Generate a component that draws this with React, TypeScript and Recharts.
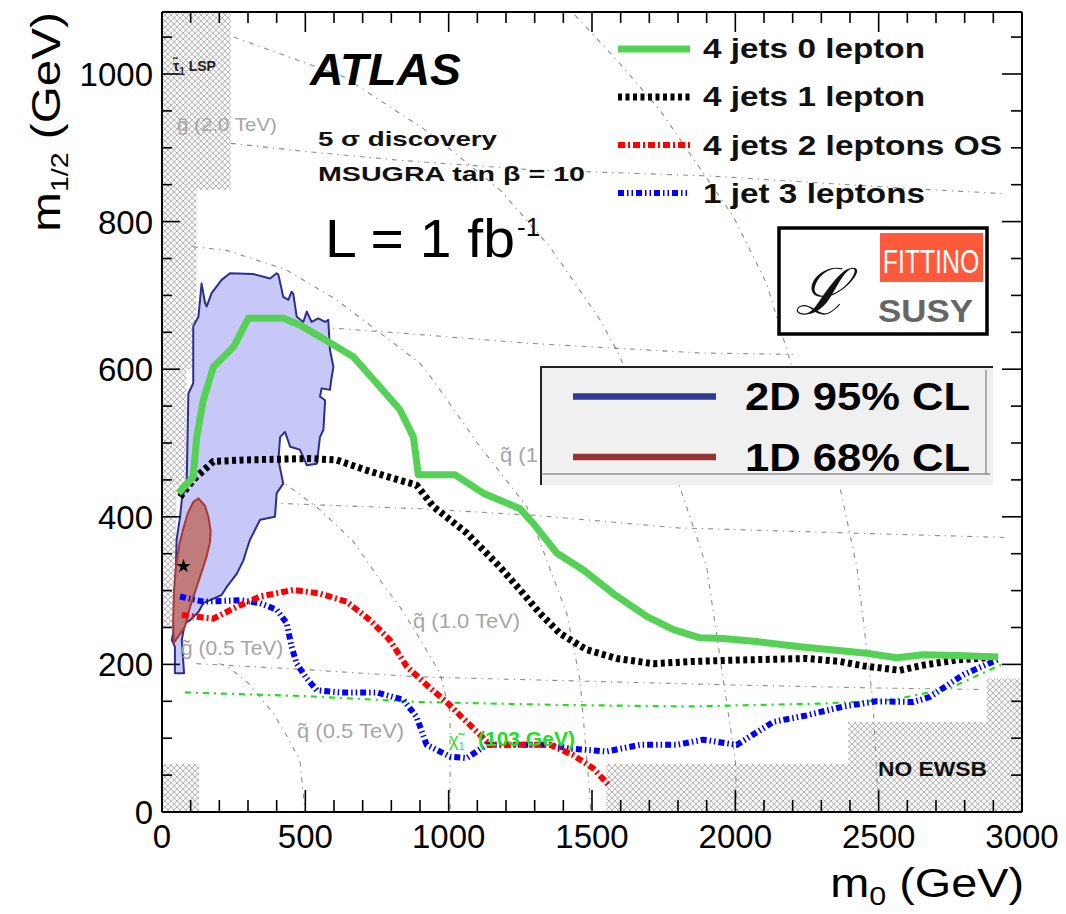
import React from 'react';
import { ComposedChart, XAxis, YAxis, Scatter, ReferenceArea } from 'recharts';

type Pt = [number, number];

// ---------- axis ticks ----------
const xTicks = [0, 100, 200, 300, 400, 500, 600, 700, 800, 900, 1000, 1100, 1200, 1300, 1400, 1500, 1600, 1700, 1800, 1900, 2000, 2100, 2200, 2300, 2400, 2500, 2600, 2700, 2800, 2900, 3000];
const xLabelled = [0, 500, 1000, 1500, 2000, 2500, 3000];
const yTicks = [0, 50, 100, 150, 200, 250, 300, 350, 400, 450, 500, 550, 600, 650, 700, 750, 800, 850, 900, 950, 1000, 1050];
const yLabelled = [0, 200, 400, 600, 800, 1000];

// ---------- 5 sigma discovery reach (m0, m1/2) ----------
const jets4lep0: Pt[] = [[57, 432], [109, 454], [121, 508], [144, 558], [179, 603], [249, 630], [301, 669], [423, 669], [481, 660], [598, 633], [667, 617], [749, 581], [830, 545], [877, 508], [894, 457], [1022, 457], [1121, 432], [1249, 411], [1295, 391], [1377, 351], [1470, 328], [1574, 296], [1691, 265], [1784, 247], [1877, 236], [1958, 235], [2074, 231], [2226, 224], [2458, 215], [2563, 209], [2656, 213], [2772, 212], [2917, 210]];
const jets4lep1: Pt[] = [[63, 427], [109, 450], [179, 475], [284, 477], [516, 479], [609, 477], [714, 463], [807, 452], [888, 443], [946, 414], [1063, 378], [1179, 332], [1249, 301], [1319, 269], [1388, 242], [1481, 220], [1586, 208], [1714, 201], [1853, 204], [2016, 206], [2249, 208], [2365, 204], [2446, 198], [2574, 192], [2656, 199], [2772, 206], [2912, 210]];
const jets4lep2OS: Pt[] = [[69, 267], [109, 265], [179, 262], [261, 278], [342, 292], [458, 301], [551, 296], [644, 285], [726, 260], [795, 233], [854, 197], [935, 168], [993, 149], [1045, 129], [1098, 109], [1144, 91], [1353, 91], [1435, 77], [1505, 59], [1557, 37]];
const jet1lep3: Pt[] = [[63, 292], [144, 285], [272, 287], [342, 283], [400, 274], [435, 256], [452, 224], [470, 201], [505, 181], [540, 165], [621, 162], [749, 162], [842, 152], [888, 129], [923, 91], [1005, 75], [1063, 73], [1133, 91], [1353, 91], [1423, 86], [1551, 82], [1667, 91], [1795, 91], [1888, 98], [2005, 91], [2132, 122], [2249, 131], [2377, 143], [2493, 150], [2621, 149], [2679, 156], [2795, 186], [2923, 208]];
const charginoLEP: Pt[] = [[80, 162], [500, 157], [900, 149], [1400, 145], [1842, 143], [2307, 147], [2550, 152], [2750, 168], [2930, 200]];

// ---------- Fittino fit contours ----------
const cl95Contour: Pt[] = [[109, 658], [127, 671], [138, 716], [150, 690], [156, 685], [173, 703], [208, 721], [237, 730], [318, 729], [377, 723], [400, 730], [406, 728], [423, 698], [441, 694], [452, 705], [458, 702], [470, 671], [493, 664], [505, 678], [522, 664], [545, 669], [569, 664], [580, 667], [586, 626], [598, 603], [590, 585], [586, 572], [557, 574], [551, 563], [569, 558], [563, 518], [551, 508], [540, 472], [505, 470], [481, 491], [447, 495], [429, 515], [412, 508], [406, 477], [423, 445], [400, 432], [394, 400], [342, 396], [307, 369], [295, 355], [284, 341], [261, 323], [226, 305], [208, 294], [144, 283], [127, 271], [98, 260], [80, 256], [69, 233], [77, 188], [45, 188], [45, 224], [34, 233], [39, 242], [45, 278], [51, 369], [63, 400], [69, 423], [86, 445], [92, 567], [109, 581]];
const cl68Contour: Pt[] = [[127, 425], [150, 415], [162, 400], [170, 380], [167, 365], [155, 345], [144, 332], [121, 305], [98, 278], [80, 251], [57, 238], [41, 229], [39, 260], [42, 300], [48, 330], [60, 362], [75, 385], [90, 405], [109, 420]];
const bestFit: Pt[] = [[75, 333]];

// ---------- iso-mass contours ----------
const gluino05: Pt[] = [[120, 201], [500, 193], [900, 183], [1500, 177], [2000, 172], [2500, 168], [2860, 166]];
const gluino10: Pt[] = [[100, 425], [420, 418], [900, 411], [1300, 402], [1800, 385], [2400, 378], [2940, 372]];
const gluino15: Pt[] = [[110, 665], [580, 656], [830, 649], [1284, 635], [1877, 622], [2200, 620]];
const gluino20: Pt[] = [[240, 906], [500, 895], [830, 883], [1300, 870], [1900, 862], [2600, 845], [2930, 838]];
const squark05: Pt[] = [[200, 201], [226, 198], [300, 175], [388, 134], [440, 100], [481, 70], [499, 0]];
const squark10: Pt[] = [[300, 470], [412, 450], [550, 410], [667, 367], [777, 305], [830, 278], [888, 242], [970, 188], [1005, 134], [1005, 0]];
const squark15: Pt[] = [[108, 766], [226, 761], [432, 735], [609, 694], [900, 608], [946, 585], [1100, 500], [1272, 414], [1412, 269], [1458, 179], [1493, 21], [1495, 0]];
const squark20: Pt[] = [[250, 1050], [635, 996], [935, 920], [1179, 843], [1353, 766], [1528, 667], [1586, 626], [1700, 530], [1807, 440], [1900, 332], [1950, 200], [2000, 70], [2005, 0]];
const squark25: Pt[] = [[1440, 1080], [1586, 1019], [1737, 951], [1877, 872], [1993, 807], [2109, 716], [2200, 600], [2365, 440], [2424, 332], [2480, 150], [2500, 0]];
const isoContours: Pt[][] = [gluino05, gluino10, gluino15, gluino20, squark05, squark10, squark15, squark20, squark25];

// ---------- excluded regions [x1, x2, y1, y2] ----------
const hatchRegions: [number, number, number, number][] = [
  [0, 240, 843, 1084], [0, 120, 600, 843], [0, 85, 440, 600], [0, 50, 250, 440],
  [0, 130, 0, 65], [1550, 3000, 0, 65], [2394, 3000, 0, 122], [2877, 3000, 0, 181],
];

const seriesNames = ['4 jets 0 lepton', '4 jets 1 lepton', '4 jets 2 leptons OS', '1 jet 3 leptons'];
const clNames = ['2D 95% CL', '1D 68% CL'];

const FONT = "'Liberation Sans', Arial, Helvetica, sans-serif";

const seriesStyles: React.SVGProps<SVGPolylineElement>[] = [
  { stroke: '#55d155', strokeWidth: 7 },
  { stroke: '#000000', strokeWidth: 7, strokeDasharray: '4 3.5' },
  { stroke: '#ff0000', strokeWidth: 6, strokeDasharray: '7 3 2 3' },
  { stroke: '#0000ff', strokeWidth: 6, strokeDasharray: '6 3 1.5 3 1.5 3' },
];
const seriesData = [jets4lep0, jets4lep1, jets4lep2OS, jet1lep3];
const clStyles = [
  { fill: '#c8c8f8', stroke: '#2b2f8e', legend: '#2e3a94' },
  { fill: '#c07b7b', stroke: '#a8393a', legend: '#943333' },
];

const toXY = (a: Pt[]) => a.map(([x, y]) => ({ x, y }));
const noShape = () => <g />;
const ptsStr = (p: any) => (p.points || []).map((q: any) => `${q.x},${q.y}`).join(' ');
const lineOf = (style: React.SVGProps<SVGPolylineElement>) => (p: any) => (
  <polyline points={ptsStr(p)} fill="none" strokeLinejoin="round" {...style} />
);
const polyOf = (fill: string, stroke: string) => (p: any) => (
  <polygon points={ptsStr(p)} fill={fill} stroke={stroke} strokeWidth={2} strokeLinejoin="round" />
);

const BottomTick = (props: any) => {
  const { x, y, payload } = props;
  const v = payload.value;
  const major = v % 500 === 0;
  return (
    <g>
      <line x1={x} y1={y} x2={x} y2={y - (major ? 22 : 12)} stroke="#000" strokeWidth={1.6} />
      {xLabelled.includes(v) && (
        <text x={x} y={y + 36} textAnchor="middle" fontSize={33} fontFamily={FONT} fill="#000">{v}</text>
      )}
    </g>
  );
};
const TopTick = (props: any) => {
  const { x, y, payload } = props;
  const major = payload.value % 500 === 0;
  return <line x1={x} y1={y} x2={x} y2={y + (major ? 20 : 11)} stroke="#000" strokeWidth={1.6} />;
};
const LeftTick = (props: any) => {
  const { x, y, payload } = props;
  const v = payload.value;
  const major = v % 200 === 0;
  return (
    <g>
      <line x1={x} y1={y} x2={x + (major ? 18 : 10)} y2={y} stroke="#000" strokeWidth={1.6} />
      {yLabelled.includes(v) && (
        <text x={x - 9} y={y + 12} textAnchor="end" fontSize={33} fontFamily={FONT} fill="#000">{v}</text>
      )}
    </g>
  );
};
const RightTick = (props: any) => {
  const { x, y, payload } = props;
  const major = payload.value % 200 === 0;
  return <line x1={x} y1={y} x2={x - (major ? 20 : 11)} y2={y} stroke="#000" strokeWidth={1.6} />;
};

const grayLabel = { fontSize: 20, fontFamily: FONT, fill: '#a6a6a6' };

export default function App() {
  return (
    <div style={{ position: 'relative', width: 1066, height: 914, background: '#fff' }}>
      <style>{'body{margin:0;}'}</style>
      <svg width={0} height={0} style={{ position: 'absolute' }}>
        <defs>
          <pattern id="hatch" width="6" height="6" patternUnits="userSpaceOnUse">
            <rect width="6" height="6" fill="#f5f5f5" />
            <path d="M0,0 L6,6 M6,0 L0,6" stroke="#a8a8a8" strokeWidth="0.8" />
          </pattern>
        </defs>
      </svg>
      <ComposedChart width={1066} height={914} margin={{ top: 0, right: 0, bottom: 0, left: 0 }}>
        <XAxis dataKey="x" type="number" domain={[0, 3000]} ticks={xTicks} interval={0} height={102}
          tickSize={0} tickMargin={0} tickLine={false} axisLine={{ stroke: '#000', strokeWidth: 2 }}
          tick={(p: any) => <BottomTick {...p} />} allowDataOverflow />
        <XAxis xAxisId="top" orientation="top" dataKey="x" type="number" domain={[0, 3000]} ticks={xTicks} interval={0} height={12}
          tickSize={0} tickMargin={0} tickLine={false} axisLine={{ stroke: '#000', strokeWidth: 2 }}
          tick={(p: any) => <TopTick {...p} />} allowDataOverflow />
        <YAxis dataKey="y" type="number" domain={[0, 1084]} ticks={yTicks} interval={0} width={162}
          tickSize={0} tickMargin={0} tickLine={false} axisLine={{ stroke: '#000', strokeWidth: 2 }}
          tick={(p: any) => <LeftTick {...p} />} allowDataOverflow />
        <YAxis yAxisId="right" orientation="right" dataKey="y" type="number" domain={[0, 1084]} ticks={yTicks} interval={0} width={44}
          tickSize={0} tickMargin={0} tickLine={false} axisLine={{ stroke: '#000', strokeWidth: 2 }}
          tick={(p: any) => <RightTick {...p} />} allowDataOverflow />

        {hatchRegions.map(([x1, x2, y1, y2], i) => (
          <ReferenceArea key={`h${i}`} x1={x1} x2={x2} y1={y1} y2={y2} fill="url(#hatch)" fillOpacity={1} stroke="none" ifOverflow="hidden" />
        ))}

        {isoContours.map((c, i) => (
          <Scatter key={`iso${i}`} data={toXY(c)} shape={noShape} isAnimationActive={false}
            line={lineOf({ stroke: '#808080', strokeWidth: 1.1, strokeDasharray: '5 5 1.2 5', opacity: 0.9 })} />
        ))}

        <Scatter data={toXY(cl95Contour)} shape={noShape} isAnimationActive={false} line={polyOf(clStyles[0].fill, clStyles[0].stroke)} />
        <Scatter data={toXY(cl68Contour)} shape={noShape} isAnimationActive={false} line={polyOf(clStyles[1].fill, clStyles[1].stroke)} />

        <Scatter data={toXY(charginoLEP)} shape={noShape} isAnimationActive={false}
          line={lineOf({ stroke: '#22dd22', strokeWidth: 2.2, strokeDasharray: '6 5 2 5' })} />

        {[3, 2, 1, 0].map((k) => (
          <Scatter key={`s${k}`} name={seriesNames[k]} data={toXY(seriesData[k])} shape={noShape} isAnimationActive={false}
            line={lineOf(seriesStyles[k])} />
        ))}

        <Scatter data={toXY(bestFit)} shape="star" fill="#000" isAnimationActive={false} />
      </ComposedChart>

      <svg width={1066} height={914} style={{ position: 'absolute', left: 0, top: 0, pointerEvents: 'none' }} fontFamily={FONT}>
        {/* region / contour labels */}
        <text x={173} y={71} fontSize={14} fontWeight="bold" fill="#222">τ̃<tspan fontSize={10} dy={4}>1</tspan><tspan dy={-4}> LSP</tspan></text>
        <text transform="translate(177,131) scale(1.08,1)" {...grayLabel} fontSize={19}>g̃ (2.0 TeV)</text>
        <text transform="translate(181,655) scale(1.05,1)" {...grayLabel}>g̃ (0.5 TeV)</text>
        <text transform="translate(297,738) scale(1.1,1)" {...grayLabel}>q̃ (0.5 TeV)</text>
        <text transform="translate(413,628) scale(1.1,1)" {...grayLabel}>q̃ (1.0 TeV)</text>
        <text transform="translate(500,462) scale(1.1,1)" {...grayLabel}>q̃ (1.5 TeV)</text>
        <text x={449} y={746} fontSize={18} fill="#33dd33">χ̃<tspan fontSize={11} dy={4}>1</tspan></text>
        <text x={478} y={746} fontSize={21} fontWeight="bold" fill="#22dd22">(103 GeV)</text>
        <text x={878} y={776} fontSize={20} fontWeight="bold" fill="#111" textLength={109} lengthAdjust="spacingAndGlyphs">NO EWSB</text>

        {/* titles */}
        <text x={310} y={85} fontSize={44} fontWeight="bold" fontStyle="italic" fill="#000" textLength={151} lengthAdjust="spacingAndGlyphs">ATLAS</text>
        <text x={318} y={146} fontSize={21} fontWeight="bold" fill="#111" textLength={179} lengthAdjust="spacingAndGlyphs">5 σ discovery</text>
        <text x={318} y={181} fontSize={21} fontWeight="bold" fill="#111" textLength={267} lengthAdjust="spacingAndGlyphs">MSUGRA tan β = 10</text>
        <text x={325} y={257} fontSize={54} fill="#000" textLength={190} lengthAdjust="spacingAndGlyphs">L = 1 fb</text>
        <text x={517} y={236} fontSize={26} fill="#000">-1</text>

        {/* axis titles */}
        <text transform="translate(60,122) rotate(-90) scale(1.19,1)" textAnchor="middle" fontSize={40} fill="#000">
          m<tspan fontSize={24} dy={8}>1/2</tspan><tspan dy={-8}> (GeV)</tspan>
        </text>
        <text transform="translate(1024,897) scale(1.17,1)" textAnchor="end" fontSize={40} fill="#000">
          m<tspan fontSize={26} dy={8}>0</tspan><tspan dy={-8}> (GeV)</tspan>
        </text>

        {/* analysis legend */}
        {seriesNames.map((n, i) => (
          <g key={n}>
            <line x1={618} x2={690} y1={49 + i * 48} y2={49 + i * 48} {...(seriesStyles[i] as any)} />
            <text x={703} y={58 + i * 48.3} fontSize={28} fontWeight="bold" fill="#111"
              textLength={i === 2 ? 299 : 222} lengthAdjust="spacingAndGlyphs">{n}</text>
          </g>
        ))}

        {/* Fittino logo */}
        <rect x={779} y={228} width={208} height={106} fill="#fff" stroke="#000" strokeWidth={3.5} />
        <rect x={880} y={233} width={103} height={49} fill="#ff5a3c" />
        <text transform="translate(931,273) scale(0.73,1)" textAnchor="middle" fontSize={34} fill="#fff">FITTINO</text>
        <text x={795} y={314} fontSize={64} fontStyle="italic" fontFamily="'DejaVu Serif', serif" fill="#111">ℒ</text>
        <text transform="translate(878,322) scale(1.09,1)" fontSize={32} fontWeight="bold" fill="#666">SUSY</text>

        {/* CL legend */}
        <rect x={540} y={367} width={453} height={118} fill="#f0f0f0" />
        <line x1={540} x2={993} y1={367} y2={367} stroke="#222" strokeWidth={2} />
        <line x1={541} x2={541} y1={367} y2={485} stroke="#222" strokeWidth={2} />
        <line x1={986} x2={986} y1={370} y2={474} stroke="#666" strokeWidth={1} />
        <line x1={541} x2={990} y1={474} y2={474} stroke="#666" strokeWidth={1} />
        {clNames.map((n, i) => (
          <g key={n}>
            <line x1={573} x2={716} y1={396.5 + i * 60.5} y2={396.5 + i * 60.5} stroke={clStyles[i].legend} strokeWidth={6.5} />
            <text x={745} y={410 + i * 61} fontSize={38} fontWeight="bold" fill="#000" textLength={225} lengthAdjust="spacingAndGlyphs">{n}</text>
          </g>
        ))}
      </svg>
    </div>
  );
}
